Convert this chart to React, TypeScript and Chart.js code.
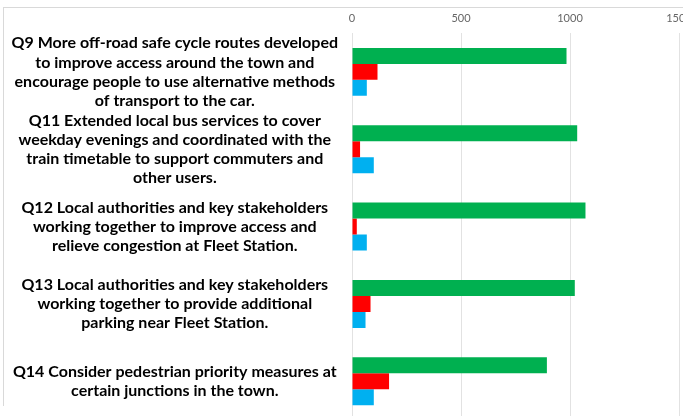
import React, { useEffect, useRef } from "react";
import { Chart, registerables } from "chart.js";

Chart.register(...registerables);

const categories: string[][] = [
  ["Q9 More off-road safe cycle routes developed", "to improve access around the town and", "encourage people to use alternative methods", "of transport to the car."],
  ["Q11 Extended local bus services to cover", "weekday evenings and coordinated with the", "train timetable to support commuters and", "other users."],
  ["Q12 Local authorities and key stakeholders", "working together to improve access and", "relieve congestion at Fleet Station."],
  ["Q13 Local authorities and key stakeholders", "working together to provide additional", "parking near Fleet Station."],
  ["Q14 Consider pedestrian priority measures at", "certain junctions in the town."],
];

const greenValues = [984, 1033, 1071, 1022, 894];
const redValues = [117, 37, 22, 85, 170];
const blueValues = [68, 100, 68, 62, 100];

const xTicks = [0, 500, 1000, 1500];

export default function App() {
  const ref = useRef<HTMLCanvasElement | null>(null);
  useEffect(() => {
    if (!ref.current) return;
    const chart = new Chart(ref.current, {
      type: "bar",
      data: {
        labels: categories,
        datasets: [
          { label: "Green", data: greenValues, backgroundColor: "#00B050" },
          { label: "Red", data: redValues, backgroundColor: "#FF0000" },
          { label: "Blue", data: blueValues, backgroundColor: "#00B0F0" },
        ],
      },
      options: {
        indexAxis: "y",
        animation: false,
        responsive: true,
        maintainAspectRatio: false,
        layout: { padding: { top: 4, right: 41, bottom: 2, left: 0 } },
        datasets: { bar: { categoryPercentage: 0.62, barPercentage: 1.0 } },
        plugins: { legend: { display: false }, tooltip: { enabled: false } },
        scales: {
          x: {
            position: "top",
            min: xTicks[0],
            max: xTicks[xTicks.length - 1],
            afterBuildTicks: (scale: any) => {
              scale.ticks = xTicks.map((v) => ({ value: v }));
            },
            grid: { color: "#e2e2e2", drawTicks: false },
            border: { display: false },
            ticks: {
              padding: 8,
              color: "#666666",
              font: { family: "Lato", size: 11 },
              callback: (v: any) => String(v),
            },
          },
          y: {
            grid: { display: false },
            border: { display: false },
            afterFit: (scale: any) => {
              scale.width = 352;
              scale.paddingTop = 0;
              scale.paddingBottom = 0;
            },
            ticks: {
              autoSkip: false,
              crossAlign: "center",
              padding: 6,
              color: "#000000",
              font: { family: "Lato", size: 16, weight: "bold", lineHeight: 1.19 },
            },
          },
        },
      },
    });
    return () => chart.destroy();
  }, []);
  return (
    <div style={{ position: "fixed", left: 0, top: 0, width: 720, height: 422, background: "#fff" }}>
      <div
        style={{
          position: "absolute",
          left: 3,
          top: 7,
          width: 717,
          height: 398,
          borderLeft: "1px solid #d9d9d9",
          borderTop: "1px solid #d9d9d9",
        }}
      />
      <canvas ref={ref} />
    </div>
  );
}
